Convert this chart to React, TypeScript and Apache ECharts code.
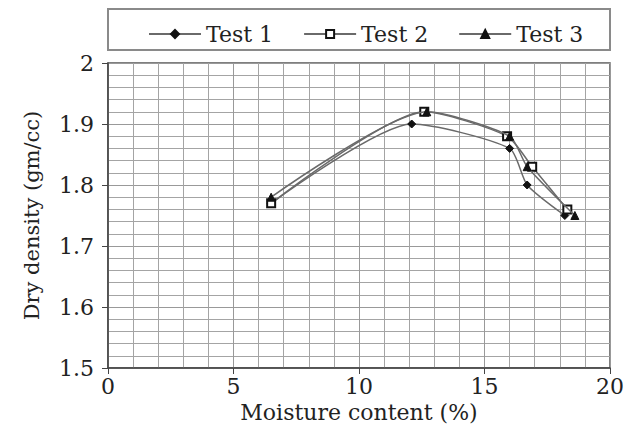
import React, { useEffect, useRef } from "react";
import * as echarts from "echarts";

const seriesNames = ["Test 1", "Test 2", "Test 3"];
const test1X = [6.5, 12.1, 16.0, 16.7, 18.2];
const test1Y = [1.77, 1.9, 1.86, 1.8, 1.75];
const test2X = [6.5, 12.6, 15.9, 16.9, 18.3];
const test2Y = [1.77, 1.92, 1.88, 1.83, 1.76];
const test3X = [6.5, 12.7, 16.0, 16.7, 18.6];
const test3Y = [1.78, 1.92, 1.88, 1.83, 1.75];
const xTicks = [0, 5, 10, 15, 20];
const yTicks = [1.5, 1.6, 1.7, 1.8, 1.9, 2];

const FONT = "DejaVu Serif";

export default function App() {
  const ref = useRef<HTMLDivElement>(null);
  useEffect(() => {
    if (!ref.current) return;
    const chart = echarts.init(ref.current, undefined, { renderer: "svg" });
    const zip = (xs: number[], ys: number[]) => xs.map((x, i) => [x, ys[i]]);
    const xs = [test1X, test2X, test3X];
    const ys = [test1Y, test2Y, test3Y];
    const symbols = ["diamond", "rect", "triangle"];
    const symbolSizes = [8, 8, 8];
    const series = seriesNames.map((name, i) => ({
      name,
      type: "line",
      data: zip(xs[i], ys[i]),
      smooth: 0.22,
      symbol: symbols[i],
      symbolSize: symbolSizes[i],
      showAllSymbol: true,
      lineStyle: { color: "#6a6a6a", width: 1.5 },
      itemStyle: {
        color: i === 1 ? "#ffffff" : "#111111",
        borderColor: "#111111",
        borderWidth: i === 1 ? 2 : 1,
      },
      z: 3 + i,
    }));
    chart.setOption({
      animation: false,
      backgroundColor: "#ffffff",
      textStyle: { fontFamily: FONT },
      graphic: [
        {
          type: "rect",
          shape: { x: 108, y: 9, width: 502, height: 41 },
          style: { fill: "none", stroke: "#8a8a8a", lineWidth: 2 },
          z: 10,
        },
      ],
      legend: {
        data: seriesNames,
        top: 18,
        left: 143,
        itemWidth: 52,
        itemHeight: 10,
        itemGap: 30,
        textStyle: { fontFamily: FONT, fontSize: 22, color: "#222" },
        inactiveColor: "#222",
      },
      grid: {
        left: 108,
        right: 24,
        top: 63,
        bottom: 68,
        show: true,
        borderColor: "#555",
        borderWidth: 1.5,
        containLabel: false,
      },
      xAxis: {
        type: "value",
        min: xTicks[0],
        max: xTicks[xTicks.length - 1],
        interval: 5,
        name: "Moisture content (%)",
        nameLocation: "middle",
        nameGap: 25,
        nameTextStyle: { fontFamily: FONT, fontSize: 22, color: "#222" },
        axisLine: { show: true, lineStyle: { color: "#444", width: 1.5 } },
        axisTick: { show: true, inside: false, length: 6, lineStyle: { color: "#444" } },
        axisLabel: { fontFamily: FONT, fontSize: 22, color: "#222", margin: 7 },
        splitLine: { show: true, lineStyle: { color: "#999", width: 1 } },
        minorTick: { show: false, splitNumber: 5 },
        minorSplitLine: { show: true, lineStyle: { color: "#a4a4a4", width: 1 } },
      },
      yAxis: {
        type: "value",
        min: yTicks[0],
        max: yTicks[yTicks.length - 1],
        interval: 0.1,
        name: "Dry density (gm/cc)",
        nameLocation: "middle",
        nameGap: 66,
        nameTextStyle: { fontFamily: FONT, fontSize: 21, color: "#222" },
        axisLine: { show: true, lineStyle: { color: "#444", width: 1.5 } },
        axisTick: { show: true, inside: false, length: 6, lineStyle: { color: "#444" } },
        axisLabel: { fontFamily: FONT, fontSize: 22, color: "#222", margin: 14 },
        splitLine: { show: true, lineStyle: { color: "#999", width: 1 } },
        minorTick: { show: false, splitNumber: 5 },
        minorSplitLine: { show: true, lineStyle: { color: "#a4a4a4", width: 1 } },
      },
      series,
    });
    return () => chart.dispose();
  }, []);
  return (
    <div
      ref={ref}
      style={{ position: "fixed", left: 0, top: 0, width: 634, height: 436 }}
    />
  );
}
